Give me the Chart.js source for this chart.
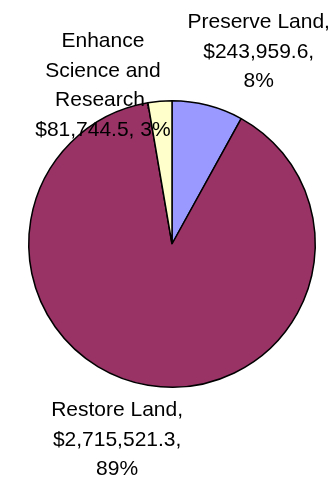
<!DOCTYPE html>
<html>
<head>
<meta charset="utf-8">
<script src="https://cdn.jsdelivr.net/npm/chart.js@4/dist/chart.umd.min.js"></script>
<style>
  html, body { margin: 0; padding: 0; background: #fff; }
  .pieChart { position: relative; width: 335px; height: 481px; }
</style>
</head>
<body>
<div class="pieChart"><canvas></canvas></div>
<script>
// budget by program area
const categories = ["Preserve Land", "Restore Land", "Enhance Science and Research"];
const amounts = [243959.6, 2715521.3, 81744.5];
const labelLines = [["Preserve Land"], ["Restore Land"], ["Enhance", "Science and", "Research"]];
const sliceColors = ["#9999FF", "#993366", "#FFFFCC"];

// where each label block sits, relative to the rim point at the slice's middle angle
const labelLayout = [
  { dx: 51, dy: -77, joinTail: false },
  { dx: -31, dy: 31, joinTail: false },
  { dx: -57, dy: -54, joinTail: true }
];

const total = amounts.reduce((a, b) => a + b, 0);

const money = v =>
  "$" + v.toLocaleString("en-US", { minimumFractionDigits: 1, maximumFractionDigits: 1 });

const buildLines = i => {
  const name = labelLines[i].slice();
  name[name.length - 1] += ",";
  const value = money(amounts[i]) + ",";
  const pct = Math.round((amounts[i] / total) * 100) + "%";
  return labelLayout[i].joinTail ? [...name, value + " " + pct] : [...name, value, pct];
};

const sliceLabels = {
  id: "sliceLabels",
  afterDatasetsDraw(chart) {
    const ctx = chart.ctx;
    const arcs = chart.getDatasetMeta(0).data;
    ctx.save();
    ctx.fillStyle = "#000";
    ctx.font = "21px 'Liberation Sans', Arial, sans-serif";
    ctx.textAlign = "center";
    ctx.textBaseline = "alphabetic";
    arcs.forEach((arc, i) => {
      const { x, y, startAngle, endAngle, outerRadius } = arc.getProps(
        ["x", "y", "startAngle", "endAngle", "outerRadius"], true
      );
      const mid = (startAngle + endAngle) / 2;
      const bx = x + Math.cos(mid) * outerRadius + labelLayout[i].dx;
      const by = y + Math.sin(mid) * outerRadius + labelLayout[i].dy;
      buildLines(i).forEach((line, n) => ctx.fillText(line, bx, by + n * 29.5));
    });
    ctx.restore();
  }
};

const ctx = document.querySelector(".pieChart canvas");

new Chart(ctx, {
  type: "pie",
  data: {
    labels: categories,
    datasets: [
      {
        data: amounts,
        backgroundColor: sliceColors,
        borderColor: "#000",
        borderWidth: 1.5
      }
    ]
  },
  options: {
    responsive: true,
    maintainAspectRatio: false,
    animation: false,
    layout: {
      padding: { left: 28, right: 19, top: 99, bottom: 92 }
    },
    plugins: {
      legend: { display: false },
      tooltip: { enabled: false }
    }
  },
  plugins: [sliceLabels]
});
</script>
</body>
</html>
